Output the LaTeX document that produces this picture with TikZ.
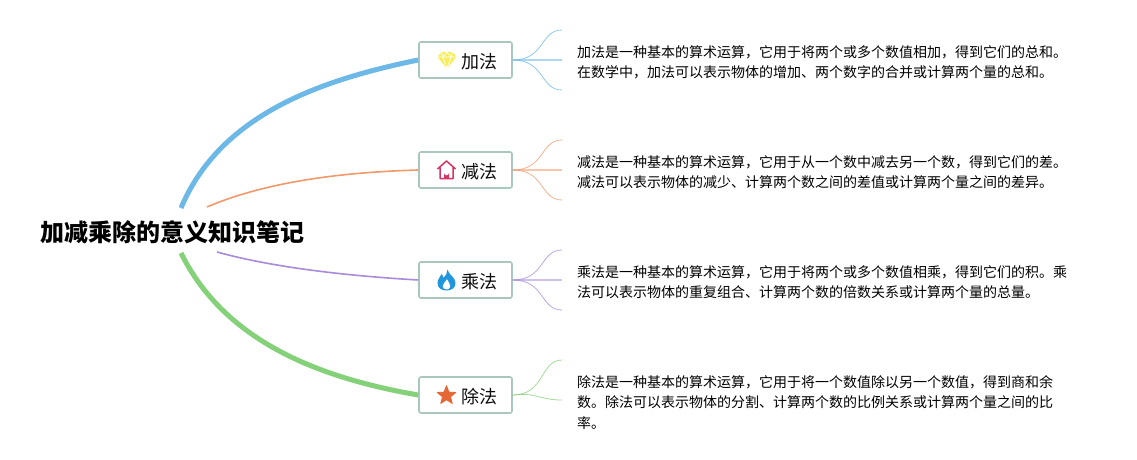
\documentclass[tikz,border=0pt]{standalone}
\usepackage{fontspec}
\usetikzlibrary{calc}
\setmainfont{Noto Sans CJK SC}
\definecolor{cblue}{HTML}{6CB8E6}
\definecolor{corange}{HTML}{F2996B}
\definecolor{cpurple}{HTML}{A98BDC}
\definecolor{cgreen}{HTML}{85D17A}
\definecolor{boxline}{HTML}{A9C7BE}
\definecolor{cdiamond}{HTML}{F6EE5A}
\definecolor{chouse}{HTML}{D43464}
\definecolor{cflame}{HTML}{2196DC}
\definecolor{cstar}{HTML}{E56735}
\tikzset{
  topic/.style={draw=boxline,line width=1.6pt,rounded corners=2pt,fill=white,minimum width=93pt,minimum height=36pt,inner sep=0pt},
  toplabel/.style={font=\fontsize{18pt}{20pt}\selectfont,text=black!95,inner sep=0pt,anchor=west},
  desc/.style={font=\fontsize{14pt}{20.5pt}\selectfont,text=black,anchor=north west,inner sep=0pt,align=left},
  branch/.style={line width=.8pt,line cap=round,opacity=.75},
  mid/.style={line width=1.3pt,opacity=.55},
  thick branch/.style={line width=5pt}
}
\begin{document}
\begin{tikzpicture}[x=1pt,y=-1pt]
\useasboundingbox (0,0) rectangle (1137,460);
\fill[white] (0,0) rectangle (1137,460);
\coordinate (ra) at (181,208);
\coordinate (rb) at (207,207);
\coordinate (rc) at (217,252);
\coordinate (rd) at (181,253);
\node[topic] (a) at (465.5,60) {};
\node[topic] (b) at (465.5,170) {};
\node[topic] (c) at (465.5,280) {};
\node[topic] (d) at (465.5,395) {};
\node[inner sep=0pt] (title) at (172,232) {\bfseries\fontsize{24pt}{28pt}\selectfont 加减乘除的意义知识笔记};
% main branches
\draw[cblue,thick branch] (ra) .. controls (220,115) and (320,80) .. (a.west);
\draw[corange,line width=1.6pt] (rb) .. controls (270,180) and (350,172) .. (b.west);
\draw[cpurple,line width=1.6pt] (rc) .. controls (275,268) and (350,276) .. (c.west);
\draw[cgreen,thick branch] (rd) .. controls (225,342) and (320,378) .. (d.west);
% leaves
\foreach \n/\col/\y in {a/cblue/30,b/corange/140,c/cpurple/250}{
  \coordinate (\n1) at (562,\y);
  \coordinate (\n2) at (562,\y+30);
  \coordinate (\n3) at (562,\y+60);
  \draw[branch,\col] (\n.east) .. controls (545,\y+30) and (540,\y) .. (\n1);
  \draw[branch,\col] (\n.east) .. controls (545,\y+30) and (540,\y+60) .. (\n3);
  \draw[mid,\col] (\n.east) -- (\n2);
}
\coordinate (d1) at (562,360);
\coordinate (d2) at (562,400);
\draw[branch,cgreen] (d.east) .. controls (545,395) and (540,360) .. (d1);
\draw[branch,cgreen] (d.east) .. controls (535,392) and (540,400) .. (d2);
% labels
\node[toplabel] (la) at (461,62) {加法};
\node[toplabel] (lb) at (461,172) {减法};
\node[toplabel] (lc) at (461,282) {乘法};
\node[toplabel] (ld) at (461,397) {除法};
% diamond icon
\begin{scope}[shift={(447,60)}]
\fill[cdiamond] (-5.5,-8) -- (5.5,-8) -- (9.5,-3) -- (0,8.5) -- (-9.5,-3) -- cycle;
\draw[white,line width=.7pt] (-9.5,-3) -- (9.5,-3) (-4,-3) -- (0,8.5) -- (4,-3) (-5.5,-8) -- (-4,-3) -- (0,-8) -- (4,-3) -- (5.5,-8);
\end{scope}
% house icon
\begin{scope}[shift={(446.5,170)}]
\draw[chouse,line width=1.5pt,line join=round] (-9,-1) -- (0,-9) -- (9,-1) (-6.5,-2.5) -- (-6.5,8.5) -- (6.5,8.5) -- (6.5,-2.5);
\fill[chouse] (-2.5,8.5) -- (-2.5,3) arc[start angle=180,end angle=0,radius=2.5] -- (2.5,8.5) -- cycle;
\end{scope}
% flame icon
\begin{scope}[shift={(446.5,280)}]
\fill[cflame,even odd rule]
 (1,-10.5) .. controls (2,-5) and (9,-3) .. (9,3) .. controls (9,8) and (5,10.5) .. (0,10.5) .. controls (-5,10.5) and (-9,8) .. (-9,3) .. controls (-9,-1) and (-6,-3) .. (-5,-6) .. controls (-3.5,-4.5) and (-3,-3) .. (-3,-2) .. controls (-1,-4) and (1,-7) .. (1,-10.5) -- cycle
 (0.5,-1) .. controls (1,2) and (4.5,3) .. (4,6.5) .. controls (3.5,9) and (1.5,9.5) .. (0,9.5) .. controls (-2,9.5) and (-4,8.5) .. (-4,6) .. controls (-4,3) and (-0.5,2) .. (0.5,-1) -- cycle;
\end{scope}
% star icon
\begin{scope}[shift={(446.5,395.5)}]
\fill[cstar,line join=round,draw=cstar,line width=.8pt]
 (-90:9.8) -- (-54:4.2) -- (-18:9.8) -- (18:4.2) -- (54:9.8) -- (90:4.2) -- (126:9.8) -- (162:4.2) -- (198:9.8) -- (234:4.2) -- cycle;
\end{scope}
% descriptions
\node[desc] (ta) at (577,45) {加法是一种基本的算术运算，它用于将两个或多个数值相加，得到它们的总和。\\在数学中，加法可以表示物体的增加、两个数字的合并或计算两个量的总和。};
\node[desc] (tb) at (577,155) {减法是一种基本的算术运算，它用于从一个数中减去另一个数，得到它们的差。\\减法可以表示物体的减少、计算两个数之间的差值或计算两个量之间的差异。};
\node[desc] (tc) at (577,265) {乘法是一种基本的算术运算，它用于将两个或多个数值相乘，得到它们的积。乘\\法可以表示物体的重复组合、计算两个数的倍数关系或计算两个量的总量。};
\node[desc] (td) at (577,375) {除法是一种基本的算术运算，它用于将一个数值除以另一个数值，得到商和余\\数。除法可以表示物体的分割、计算两个数的比例关系或计算两个量之间的比\\率。};
\end{tikzpicture}
\end{document}
